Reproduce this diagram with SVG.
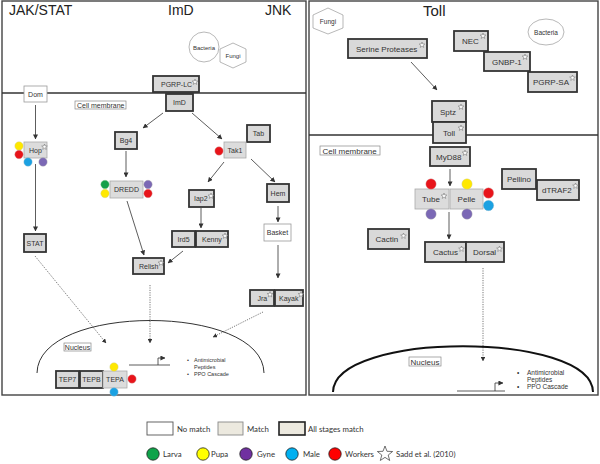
<svg xmlns="http://www.w3.org/2000/svg" width="600" height="464" viewBox="0 0 600 464">
<defs>
<style>
.frame{fill:#fff;stroke:#444;stroke-width:1.4}
.mem{stroke:#333;stroke-width:1.6;fill:none}
.t{font-family:"Liberation Sans",Arial,sans-serif;fill:#333}
.s7{font-size:7px}
.s8{font-size:8px}
.title{font-family:"Liberation Sans",Arial,sans-serif;font-size:14px;fill:#222}
.thick{fill:#d9d9d9;stroke:#333;stroke-width:1.8}
.thin{fill:#dcdcdc;stroke:#aaa;stroke-width:0.8}
.white{fill:#fff;stroke:#999;stroke-width:0.8}
.lab{fill:#fff;stroke:#888;stroke-width:0.7}
.star{fill:#fff;stroke:#666;stroke-width:0.5}
.con{stroke:#333;stroke-width:0.8;fill:none}
.dot{stroke:#555;stroke-width:0.8;fill:none;stroke-dasharray:1.2 1.2}
.leg{font-family:Lato,"Open Sans",sans-serif;font-size:7.8px;fill:#333}
.cR{fill:#e8141a;stroke:#c99;stroke-width:0.4}
.cY{fill:#ffe800;stroke:#cc9;stroke-width:0.4}
.cB{fill:#1ba1e2;stroke:#9bc;stroke-width:0.4}
.cP{fill:#7b68b5;stroke:#aaa;stroke-width:0.4}
.cG{fill:#16a04a;stroke:#9c9;stroke-width:0.4}
.ring{fill:#fff;stroke:#888;stroke-width:0.6}
</style>
<marker id="ah" viewBox="0 0 6 6" refX="5.5" refY="3" markerWidth="5" markerHeight="5" orient="auto" markerUnits="userSpaceOnUse">
<path d="M0,0 L6,3 L0,6 z" fill="#333"/>
</marker>
<marker id="ahd" viewBox="0 0 6 6" refX="5.5" refY="3" markerWidth="4.5" markerHeight="4.5" orient="auto" markerUnits="userSpaceOnUse">
<path d="M0,0 L6,3 L0,6 z" fill="#333"/>
</marker>
<polygon id="st" points="0,-3 0.74,-1.02 2.85,-0.93 1.2,0.39 1.76,2.43 0,1.26 -1.76,2.43 -1.2,0.39 -2.85,-0.93 -0.74,-1.02"/>
</defs>

<rect class="frame" x="2" y="1" width="304" height="394"/>
<rect class="frame" x="309" y="1" width="289" height="394"/>

<text class="title" x="9" y="15">JAK/STAT</text>
<text class="title" x="168" y="15">ImD</text>
<text class="title" x="265" y="15">JNK</text>
<text class="title" x="423" y="16" style="font-size:15px">Toll</text>

<line class="mem" x1="2" y1="93" x2="306" y2="93"/>
<line class="mem" x1="309" y1="135" x2="598" y2="135"/>

<g id="bacteria-left"><circle class="ring" cx="204" cy="47" r="15"/><text class="t" x="204" y="49.5" text-anchor="middle" style="font-size:6px">Bacteria</text></g>
<g id="fungi-left"><polygon class="ring" points="233,43 246,49 246,62 233,68 220,62 220,49"/><text class="t" x="233" y="58" text-anchor="middle" style="font-size:6px">Fungi</text></g>
<g id="fungi-right"><polygon class="ring" points="328,8 343,15 343,28 328,34 313,28 313,15"/><text class="t" x="328" y="24" text-anchor="middle" style="font-size:6.5px">Fungi</text></g>
<g id="bacteria-right"><ellipse class="ring" cx="546" cy="32" rx="18" ry="13"/><text class="t" x="546" y="34.5" text-anchor="middle" style="font-size:6.5px">Bacteria</text></g>

<g id="connectors">
<line class="con" x1="35.5" y1="105" x2="35.5" y2="139" marker-end="url(#ah)"/>
<line class="con" x1="35.5" y1="164" x2="35.5" y2="231" marker-end="url(#ah)"/>
<line class="con" x1="163" y1="113" x2="143" y2="128" marker-end="url(#ah)"/>
<line class="con" x1="126" y1="151" x2="126" y2="177" marker-end="url(#ah)"/>
<line class="con" x1="127" y1="201" x2="144" y2="255" marker-end="url(#ah)"/>
<line class="con" x1="192" y1="113" x2="222" y2="139" marker-end="url(#ah)"/>
<line class="con" x1="224" y1="162" x2="208" y2="182" marker-end="url(#ah)"/>
<line class="con" x1="251" y1="159" x2="275" y2="182" marker-end="url(#ah)"/>
<line class="con" x1="201" y1="208" x2="201" y2="228" marker-end="url(#ah)"/>
<line class="con" x1="183" y1="251" x2="168" y2="263" marker-end="url(#ah)"/>
<line class="con" x1="278" y1="206" x2="278" y2="222" marker-end="url(#ah)"/>
<line class="con" x1="278" y1="245" x2="278" y2="278" marker-end="url(#ah)"/>
<line class="dot" x1="35" y1="256" x2="106" y2="343" marker-end="url(#ahd)"/>
<line class="dot" x1="150" y1="285" x2="150" y2="343" marker-end="url(#ahd)"/>
<line class="dot" x1="263" y1="312" x2="213" y2="337" marker-end="url(#ahd)"/>
<line class="con" x1="411" y1="62" x2="437" y2="90" marker-end="url(#ah)"/>
<line class="con" x1="450" y1="169" x2="450" y2="186" marker-end="url(#ah)"/>
<line class="con" x1="449" y1="212" x2="449" y2="239" marker-end="url(#ah)"/>
<line class="dot" x1="483" y1="268" x2="483" y2="361" marker-end="url(#ahd)"/>
</g>

<g id="nucleus-left">
<path d="M37,373 C38,303 263,303 264,373" fill="none" stroke="#333" stroke-width="1"/>
<rect class="lab" x="64" y="343" width="27" height="8"/>
<text class="t s7" x="77.5" y="349.5" text-anchor="middle">Nucleus</text>
<path d="M129,365 H170 M158,365 V358 H165" class="con" marker-end="url(#ah)"/>
<text class="t" style="font-size:5.5px" x="187" y="362">•</text>
<text class="t" style="font-size:5.5px" x="194" y="362">Antimicrobial</text>
<text class="t" style="font-size:5.5px" x="194" y="369">Peptides</text>
<text class="t" style="font-size:5.5px" x="187" y="376">•</text>
<text class="t" style="font-size:5.5px" x="194" y="376">PPO Cascade</text>
</g>

<g id="nucleus-right">
<path d="M333,392 C334,331 592,331 593,392" fill="none" stroke="#111" stroke-width="2"/>
<rect class="lab" x="409" y="357" width="32" height="9"/>
<text class="t s8" x="425" y="364.5" text-anchor="middle">Nucleus</text>
<path d="M457,391 H505 M495,391 V383 H503" class="con" marker-end="url(#ah)"/>
<text class="t" style="font-size:6.5px" x="517" y="375">•</text>
<text class="t" style="font-size:6.5px" x="527" y="375">Antimicrobial</text>
<text class="t" style="font-size:6.5px" x="527" y="382">Peptides</text>
<text class="t" style="font-size:6.5px" x="517" y="389">•</text>
<text class="t" style="font-size:6.5px" x="527" y="389">PPO Cascade</text>
</g>

<g id="cell-membrane-left"><rect class="lab" x="75" y="101" width="51" height="8"/><text class="t s7" x="77" y="107.5">Cell membrane</text></g>
<g id="cell-membrane-right"><rect class="lab" x="320" y="146" width="60" height="9"/><text class="t s8" x="322.5" y="153.5">Cell membrane</text></g>

<g id="Dom"><rect class="white" x="24" y="86" width="23" height="16"/><text class="t s7" x="35.5" y="96.5" text-anchor="middle">Dom</text></g>
<g id="PGRP-LC"><rect class="thick" x="153" y="76" width="46" height="16"/><text class="t s7" x="161" y="87">PGRP-LC</text><use href="#st" class="star" x="195" y="82"/></g>
<g id="ImD"><rect class="thick" x="166" y="94" width="27" height="17"/><text class="t s7" x="179.5" y="105" text-anchor="middle">ImD</text></g>
<g id="Hop"><rect class="thin" x="24" y="142" width="23" height="16"/><text class="t s7" x="29" y="153">Hop</text><use href="#st" class="star" x="44.5" y="147"/>
<circle class="cY" cx="19" cy="146" r="4.2"/><circle class="cR" cx="19" cy="154.5" r="4.2"/><circle class="cB" cx="28" cy="162" r="4.2"/><circle class="cP" cx="43" cy="162" r="4.2"/></g>
<g id="Bg4"><rect class="thick" x="115" y="132" width="22" height="17"/><text class="t s7" x="126" y="143" text-anchor="middle">Bg4</text></g>
<g id="DREDD"><rect class="thin" x="110" y="181" width="33" height="17"/><text class="t s7" x="126.5" y="192" text-anchor="middle">DREDD</text>
<circle class="cG" cx="105" cy="184.5" r="4.2"/><circle class="cY" cx="105" cy="193.5" r="4.2"/><circle class="cP" cx="148" cy="184.5" r="4.2"/><circle class="cR" cx="148" cy="193.5" r="4.2"/></g>
<g id="Relish"><rect class="thick" x="133" y="258" width="31" height="16"/><text class="t s7" x="139" y="269">Relish</text><use href="#st" class="star" x="161" y="263"/></g>
<g id="Tab"><rect class="thick" x="247" y="125" width="23" height="17"/><text class="t s7" x="258.5" y="136" text-anchor="middle">Tab</text></g>
<g id="Tak1"><rect class="thin" x="224" y="142" width="22" height="16"/><text class="t s7" x="235" y="153" text-anchor="middle">Tak1</text><circle class="cR" cx="219" cy="151" r="4.2"/></g>
<g id="Iap2"><rect class="thick" x="189" y="190" width="25" height="17"/><text class="t s7" x="194" y="201">Iap2</text><use href="#st" class="star" x="211" y="196"/></g>
<g id="Hem"><rect class="thick" x="267" y="184" width="22" height="18"/><text class="t s7" x="278" y="196" text-anchor="middle">Hem</text></g>
<g id="Ird5"><rect class="thick" x="172" y="231" width="23" height="16"/><text class="t s7" x="183.5" y="242" text-anchor="middle">Ird5</text></g>
<g id="Kenny"><rect class="thick" x="196" y="231" width="32" height="16"/><text class="t s7" x="202" y="242">Kenny</text><use href="#st" class="star" x="225" y="236"/></g>
<g id="Basket"><rect class="white" x="264" y="224" width="27" height="17"/><text class="t s7" x="277.5" y="235" text-anchor="middle">Basket</text></g>
<g id="STAT"><rect class="thick" x="24" y="234" width="22" height="18"/><text class="t s7" x="35" y="246" text-anchor="middle">STAT</text></g>
<g id="Jra"><rect class="thick" x="250" y="290" width="24" height="16"/><text class="t s7" x="257.5" y="301">Jra</text><use href="#st" class="star" x="270" y="294.5"/></g>
<g id="Kayak"><rect class="thick" x="275" y="290" width="28" height="16"/><text class="t s7" x="279" y="301">Kayak</text><use href="#st" class="star" x="301" y="294.5"/></g>
<g id="TEP7"><rect class="thick" x="56" y="371" width="23" height="17"/><text class="t s7" x="67.5" y="382" text-anchor="middle">TEP7</text></g>
<g id="TEPB"><rect class="thick" x="80" y="371" width="23" height="17"/><text class="t s7" x="91.5" y="382" text-anchor="middle">TEPB</text></g>
<g id="TEPA"><rect class="thin" x="103" y="371" width="24" height="17"/><text class="t s7" x="115" y="382" text-anchor="middle">TEPA</text>
<circle class="cY" cx="114" cy="367" r="4.2"/><circle class="cR" cx="132" cy="379" r="4.2"/><circle class="cB" cx="114" cy="392" r="4.2"/></g>

<g id="SerineProteases"><rect class="thick" x="348" y="39" width="79" height="19"/><text class="t s8" x="356" y="51.5">Serine Proteases</text><use href="#st" class="star" x="422" y="45"/></g>
<g id="NEC"><rect class="thick" x="454" y="31" width="34" height="20"/><text class="t s8" x="462" y="44">NEC</text><use href="#st" class="star" x="483" y="36"/></g>
<g id="GNBP-1"><rect class="thick" x="484" y="52" width="46" height="19"/><text class="t s8" x="492" y="64.5">GNBP-1</text><use href="#st" class="star" x="525" y="57"/></g>
<g id="PGRP-SA"><rect class="thick" x="528" y="72" width="49" height="20"/><text class="t s8" x="533" y="85">PGRP-SA</text><use href="#st" class="star" x="572.5" y="78"/></g>
<g id="Sptz"><rect class="thick" x="432" y="101" width="34" height="21"/><text class="t s8" x="440" y="115">Sptz</text><use href="#st" class="star" x="461" y="107"/></g>
<g id="Toll"><rect class="thick" x="433" y="122" width="33" height="21"/><text class="t s8" x="443" y="136">Toll</text><use href="#st" class="star" x="461" y="128"/></g>
<g id="MyD88"><rect class="thick" x="430" y="147" width="40" height="19"/><text class="t s8" x="436" y="160">MyD88</text><use href="#st" class="star" x="465" y="153"/></g>
<g id="Tube"><rect class="thin" x="415" y="189" width="34" height="20"/><text class="t s8" x="422" y="202">Tube</text><use href="#st" class="star" x="444" y="196"/>
<circle class="cR" cx="431" cy="184" r="5.2"/><circle class="cP" cx="431" cy="214" r="5.2"/></g>
<g id="Pelle"><rect class="thin" x="450" y="189" width="33" height="20"/><text class="t s8" x="466.5" y="202" text-anchor="middle">Pelle</text>
<circle class="cY" cx="467" cy="184" r="5.2"/><circle class="cP" cx="467" cy="214" r="5.2"/><circle class="cR" cx="488.5" cy="193" r="5.2"/><circle class="cB" cx="488.5" cy="205.5" r="5.2"/></g>
<g id="Pellino"><rect class="thick" x="502" y="169" width="34" height="20"/><text class="t s8" x="519" y="182" text-anchor="middle">Pellino</text></g>
<g id="dTRAF2"><rect class="thick" x="537" y="180" width="42" height="20"/><text class="t s8" x="542" y="193">dTRAF2</text><use href="#st" class="star" x="575.5" y="186"/></g>
<g id="Cactin"><rect class="thick" x="368" y="229" width="41" height="20"/><text class="t s8" x="375.5" y="242">Cactin</text><use href="#st" class="star" x="403.5" y="236"/></g>
<g id="Cactus"><rect class="thick" x="425" y="242" width="41" height="20"/><text class="t s8" x="433" y="255">Cactus</text><use href="#st" class="star" x="461.5" y="249"/></g>
<g id="Dorsal"><rect class="thick" x="466" y="242" width="38" height="20"/><text class="t s8" x="473" y="255">Dorsal</text><use href="#st" class="star" x="499.5" y="249"/></g>

<g id="legend">
<rect x="147" y="422" width="26" height="13" fill="#fff" stroke="#555" stroke-width="0.9"/>
<text class="leg" x="177" y="432">No match</text>
<rect x="218" y="422" width="25" height="13" fill="#ece9df" stroke="#888" stroke-width="0.9"/>
<text class="leg" x="247" y="432">Match</text>
<rect x="279" y="422" width="26" height="13" fill="#ece9df" stroke="#222" stroke-width="1.6"/>
<text class="leg" x="308" y="432">All stages match</text>
<circle cx="153" cy="454" r="6.2" fill="#0fa34a" stroke="#222" stroke-width="0.8"/>
<text class="leg" x="163" y="457">Larva</text>
<circle cx="203" cy="454" r="6.2" fill="#ffff00" stroke="#222" stroke-width="0.8"/>
<text class="leg" x="211" y="457">Pupa</text>
<circle cx="246" cy="454" r="6.2" fill="#7030a0" stroke="#222" stroke-width="0.8"/>
<text class="leg" x="257" y="457">Gyne</text>
<circle cx="292" cy="454" r="6.2" fill="#00b0f0" stroke="#222" stroke-width="0.8"/>
<text class="leg" x="303" y="457">Male</text>
<circle cx="335" cy="454" r="6.2" fill="#ff0000" stroke="#222" stroke-width="0.8"/>
<text class="leg" x="345" y="457">Workers</text>
<polygon points="385,446 386.98,451.28 392.61,451.53 388.19,455.04 389.7,460.47 385,457.36 380.3,460.47 381.81,455.04 377.39,451.53 383.02,451.28" fill="#fff" stroke="#333" stroke-width="0.7"/>
<text class="leg" x="396" y="457">Sadd et al. (2010)</text>
</g>
</svg>
